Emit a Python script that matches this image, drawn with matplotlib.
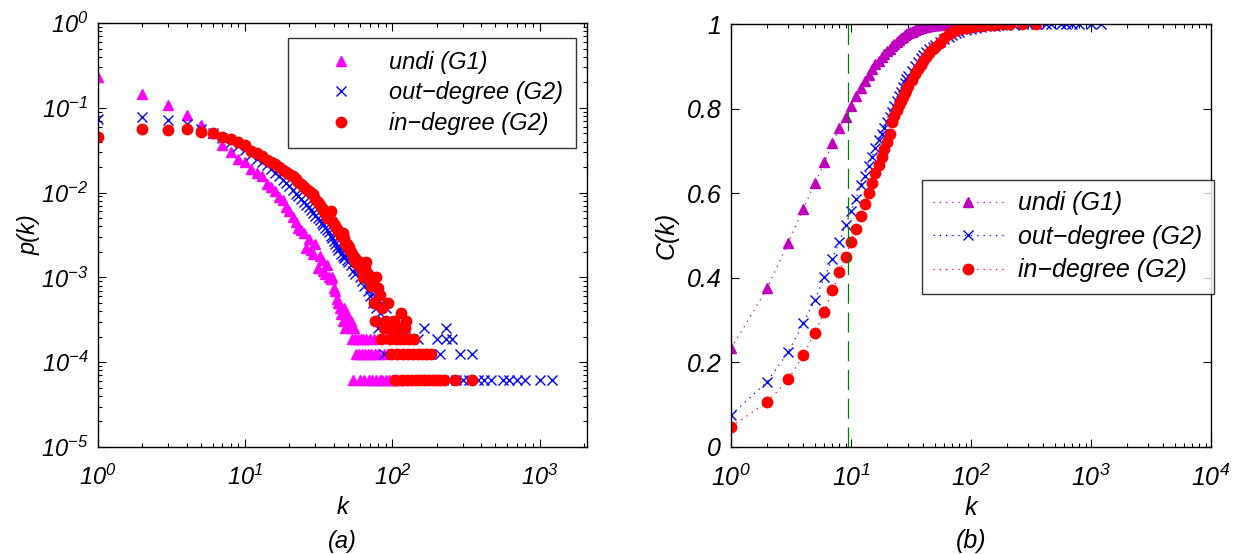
import numpy as np
import matplotlib.pyplot as plt
from matplotlib.ticker import LogLocator, NullFormatter, FuncFormatter, FixedLocator

plt.rcParams['font.family'] = ['Liberation Sans', 'DejaVu Sans']
plt.rcParams['font.style'] = 'italic'
plt.rcParams['mathtext.fontset'] = 'custom'
plt.rcParams['mathtext.rm'] = 'Liberation Sans:italic'
plt.rcParams['mathtext.it'] = 'Liberation Sans:italic'
plt.rcParams['mathtext.default'] = 'it'

# ---- (a) degree distribution p(k) ----
k_undi = [1, 2, 3, 4, 5, 6, 7, 8, 9, 10, 11, 12, 13, 14, 15, 16, 17, 18, 19, 20,
          21, 22, 23, 24, 25, 26, 27, 28, 29, 30, 31, 32, 33, 34, 35, 36, 37, 38, 39, 40,
          41, 42, 43, 44, 45, 46, 47, 48, 49, 50, 51, 52, 53, 54, 55, 56, 57, 58, 59, 60,
          61, 62, 63, 64, 65, 66, 68, 69, 70, 72, 73, 75, 76, 78, 80, 82, 85, 88, 90, 95,
          100, 106, 112]
p_undi = [0.23, 0.145, 0.107, 0.082, 0.062, 0.051, 0.036, 0.030, 0.025, 0.023,
          0.019, 0.017, 0.0155, 0.0126, 0.0118, 0.0105, 0.0088, 0.0082, 0.0068, 0.0060,
          0.0052, 0.0045, 0.0038, 0.0036, 0.0033, 0.0022, 0.0028, 0.0021, 0.0019, 0.0025,
          0.0013, 0.0018, 0.0016, 0.0012, 0.0011, 0.0014, 0.0010, 0.00095, 0.0010, 0.00075,
          0.00069, 0.00056, 0.00050, 0.00044, 0.000375, 0.00031, 0.00044, 0.00025, 0.000375, 0.00031,
          0.00025, 0.00031, 0.0001875, 6.25e-5, 0.00025, 0.0001875, 0.000125, 0.0001875, 0.000125, 6.25e-5,
          0.0001875, 0.000125, 0.0001875, 6.25e-5, 0.000125, 0.0001875, 0.000125, 6.25e-5, 0.0001875, 0.000125,
          6.25e-5, 0.0001875, 0.000125, 6.25e-5, 0.000125, 6.25e-5, 6.25e-5, 0.000125, 6.25e-5, 6.25e-5,
          6.25e-5, 6.25e-5, 6.25e-5]

k_out = [1, 2, 3, 4, 5, 6, 7, 8, 9, 10, 11, 12, 13, 14, 15, 16, 17, 18, 19, 20,
         21, 22, 23, 24, 25, 26, 27, 28, 29, 30, 31, 32, 33, 34, 35, 36, 37, 38, 39, 40,
         41, 42, 43, 44, 45, 46, 47, 48, 49, 50, 52, 54, 56, 58, 60, 62, 64, 66, 68, 70,
         72, 74, 76, 78, 80, 82, 84, 86, 88, 90, 92, 94, 96, 98, 100, 104, 108, 112, 115, 118,
         122, 126, 130, 135, 140, 145, 150, 155, 160, 165, 170, 180, 190, 200, 210, 220, 230, 233, 240, 255,
         270, 290, 300, 330, 350, 380, 420, 465, 560, 620, 700, 790, 1000, 1220]
p_out = [0.074, 0.077, 0.071, 0.064, 0.057, 0.050, 0.044, 0.040, 0.035, 0.032,
         0.028, 0.025, 0.023, 0.021, 0.019, 0.017, 0.0155, 0.014, 0.013, 0.012,
         0.0108, 0.0097, 0.0090, 0.0083, 0.0078, 0.0072, 0.0068, 0.0062, 0.0058, 0.0053,
         0.0050, 0.0047, 0.0044, 0.0041, 0.0038, 0.0036, 0.0034, 0.0031, 0.0029, 0.0027,
         0.0025, 0.0023, 0.0021, 0.0022, 0.0019, 0.0018, 0.0017, 0.0018, 0.0016, 0.0015,
         0.0014, 0.0012, 0.0011, 0.0013, 0.0010, 0.0009, 0.0008, 0.0010, 0.0007, 0.0006,
         0.0008, 0.0005, 0.0006, 0.00044, 0.00025, 0.00038, 0.0005, 0.00031, 0.000125, 0.00044,
         0.00025, 0.00031, 0.0001875, 0.00025, 0.000125, 0.00031, 0.00025, 0.0001875, 6.25e-5, 0.000125,
         0.00025, 6.25e-5, 0.000125, 0.0001875, 6.25e-5, 0.000125, 0.0001875, 6.25e-5, 0.000125, 0.00025,
         6.25e-5, 0.000125, 6.25e-5, 0.0001875, 0.000125, 6.25e-5, 0.0001875, 0.00025, 6.25e-5, 0.0001875,
         6.25e-5, 0.000125, 6.25e-5, 6.25e-5, 0.000125, 6.25e-5, 6.25e-5, 6.25e-5, 6.25e-5, 6.25e-5,
         6.25e-5, 6.25e-5, 6.25e-5, 6.25e-5]

k_in = [1, 2, 3, 4, 5, 6, 7, 8, 9, 10, 11, 12, 13, 14, 15, 16, 17, 18, 19, 20,
        21, 22, 23, 24, 25, 26, 27, 28, 29, 30, 31, 32, 33, 34, 35, 36, 37, 38, 39, 40,
        41, 42, 43, 44, 45, 46, 47, 48, 49, 50, 51, 52, 53, 54, 55, 56, 57, 58, 60, 62,
        63, 65, 66, 68, 70, 72, 75, 76, 78, 80, 82, 84, 85, 88, 90, 92, 94, 96, 98, 100,
        102, 104, 106, 108, 110, 112, 115, 116, 118, 120, 122, 124, 126, 128, 130, 134, 138, 140, 145, 150,
        155, 160, 165, 170, 175, 184, 190, 200, 210, 225, 267, 350]
p_in = [0.045, 0.057, 0.054, 0.057, 0.052, 0.051, 0.045, 0.043, 0.039, 0.036,
        0.031, 0.029, 0.027, 0.024, 0.023, 0.0217, 0.020, 0.0185, 0.0177, 0.0166,
        0.0155, 0.0144, 0.0134, 0.0125, 0.0118, 0.011, 0.0105, 0.0098, 0.0095, 0.0085,
        0.0078, 0.0072, 0.0066, 0.0062, 0.0058, 0.0050, 0.0055, 0.0060, 0.0046, 0.0043,
        0.0040, 0.0037, 0.0035, 0.0033, 0.0031, 0.0033, 0.0029, 0.0025, 0.0025, 0.0022,
        0.0023, 0.0020, 0.0019, 0.0018, 0.0016, 0.0017, 0.0015, 0.0014, 0.0015, 0.0012,
        0.0010, 0.0013, 0.0015, 0.0011, 0.0009, 0.0008, 0.0005, 0.00031, 0.0010, 0.00074,
        0.00062, 0.0001875, 0.00044, 0.00025, 0.00031, 0.00025, 0.0005, 0.0001875, 0.000125, 0.00025,
        0.00031, 6.25e-5, 0.0001875, 0.000125, 0.00025, 0.0001875, 0.00038, 6.25e-5, 0.000125, 0.0001875,
        0.00025, 0.00031, 6.25e-5, 0.000125, 0.0001875, 6.25e-5, 0.000125, 0.0001875, 6.25e-5, 0.000125,
        6.25e-5, 0.000125, 6.25e-5, 0.000125, 6.25e-5, 0.000125, 6.25e-5, 6.25e-5, 6.25e-5, 6.25e-5,
        6.25e-5, 6.25e-5]

# ---- (b) cumulative C(k) ----
kc_undi = [1, 2, 3, 4, 5, 6, 7, 8, 9, 10, 11, 12, 13, 14, 15, 16, 17, 18, 19, 20,
           21, 22, 23, 24, 25, 26, 27, 28, 29, 30, 31, 32, 33, 34, 35, 36, 37, 38, 39, 40,
           41, 42, 43, 44, 45, 46, 47, 48, 49, 50, 52, 54, 56, 58, 60, 62, 64, 66, 68, 70,
           75, 80, 85, 90, 95, 100, 110]
c_undi = [0.233, 0.375, 0.483, 0.563, 0.624, 0.673, 0.718, 0.754, 0.780, 0.807,
          0.830, 0.848, 0.865, 0.879, 0.893, 0.905, 0.913, 0.921, 0.929, 0.936,
          0.942, 0.948, 0.953, 0.958, 0.962, 0.966, 0.970, 0.973, 0.976, 0.978,
          0.980, 0.982, 0.984, 0.986, 0.987, 0.989, 0.990, 0.991, 0.992, 0.993,
          0.994, 0.9945, 0.995, 0.9955, 0.996, 0.9965, 0.997, 0.9975, 0.998, 0.9982,
          0.9985, 0.9987, 0.9989, 0.9991, 0.9992, 0.9993, 0.9994, 0.9995, 0.9996, 0.9997,
          0.9998, 0.99985, 0.9999, 0.99993, 0.99996, 0.99998, 1.0]

kc_out = [1, 2, 3, 4, 5, 6, 7, 8, 9, 10, 11, 12, 13, 14, 15, 16, 17, 18, 19, 20,
          21, 22, 23, 24, 25, 26, 27, 28, 29, 30, 32, 34, 36, 38, 40, 42, 45, 48, 50, 55,
          60, 65, 70, 75, 80, 90, 100, 110, 120, 140, 160, 180, 200, 230, 270, 300, 350, 420, 465, 560,
          620, 700, 790, 1000, 1220]
c_out = [0.076, 0.154, 0.225, 0.292, 0.348, 0.401, 0.445, 0.485, 0.525, 0.557,
         0.586, 0.619, 0.641, 0.665, 0.686, 0.708, 0.725, 0.740, 0.754, 0.768,
         0.780, 0.792, 0.806, 0.818, 0.829, 0.840, 0.850, 0.860, 0.869, 0.877,
         0.890, 0.901, 0.911, 0.920, 0.927, 0.933, 0.940, 0.946, 0.950, 0.958,
         0.964, 0.970, 0.975, 0.979, 0.982, 0.986, 0.989, 0.991, 0.993, 0.995,
         0.996, 0.997, 0.998, 0.9985, 0.999, 0.9993, 0.9995, 0.9996, 0.9997, 0.9998,
         0.99985, 0.9999, 0.99995, 0.99997, 1.0]

kc_in = [1, 2, 3, 4, 5, 6, 7, 8, 9, 10, 11, 12, 13, 14, 15, 16, 17, 18, 19, 20,
         21, 22, 23, 24, 25, 26, 27, 28, 29, 30, 32, 34, 36, 38, 40, 42, 45, 48, 50, 55,
         60, 65, 70, 75, 80, 85, 90, 100, 110, 120, 130, 145, 160, 185, 210, 267, 350]
c_in = [0.048, 0.106, 0.160, 0.217, 0.270, 0.320, 0.370, 0.414, 0.450, 0.485,
        0.516, 0.546, 0.575, 0.601, 0.624, 0.647, 0.667, 0.686, 0.704, 0.722,
        0.740, 0.768, 0.782, 0.797, 0.808, 0.818, 0.828, 0.837, 0.845, 0.853,
        0.867, 0.881, 0.893, 0.904, 0.913, 0.921, 0.931, 0.940, 0.945, 0.956,
        0.968, 0.976, 0.981, 0.985, 0.988, 0.990, 0.991, 0.993, 0.995, 0.996,
        0.997, 0.998, 0.9985, 0.999, 0.9995, 0.9998, 1.0]

k_mean = 9.5

labels = ['undi (G1)', 'out\u2212degree (G2)', 'in\u2212degree (G2)']

fig = plt.figure(figsize=(12.44, 5.54), dpi=100)
ax1 = fig.add_axes([98/1244, 107/554, 489/1244, 424/554])
ax2 = fig.add_axes([731/1244, 107/554, 480/1244, 423/554])

fs1 = 17
fs2 = 18

# (a)
ax1.plot(k_undi, p_undi, '^', color='#ff00ff', ms=7.5, mec='#ff00ff', ls='none', label=labels[0])
ax1.plot(k_out, p_out, 'x', color='#0000ff', ms=7.5, mew=1.0, ls='none', label=labels[1])
ax1.plot(k_in, p_in, 'o', color='#ff0000', ms=7.5, ls='none', label=labels[2])
ax1.set_xscale('log')
ax1.set_yscale('log')
ax1.set_xlim(1, 2100)
ax1.set_ylim(1e-5, 1)
ax1.set_xlabel('k', fontsize=fs1)
ax1.xaxis.set_label_coords(0.5, -0.115)
ax1.set_ylabel('p(k)', fontsize=fs1, labelpad=0)
ax1.text(0.5, -0.222, '(a)', transform=ax1.transAxes, ha='center', va='center', fontsize=fs1)
ax1.legend(loc='upper left', bbox_to_anchor=(0.389, 0.965), fontsize=fs1, frameon=True,
           fancybox=False, edgecolor='black', numpoints=1, handlelength=3.4,
           labelspacing=0.32, borderpad=0.55, handletextpad=0.3, borderaxespad=0)

# (b)
ax2.plot(kc_undi, c_undi, color='#bf00bf', marker='^', ms=7.5, ls=(0, (1, 4)), lw=0.9, label=labels[0])
ax2.plot(kc_out, c_out, color='#0000ff', marker='x', ms=7.5, mew=1.0, ls=(0, (1, 4)), lw=0.9, label=labels[1])
ax2.plot(kc_in, c_in, color='#ff0000', marker='o', ms=7.5, ls=(0, (1, 4)), lw=0.9, label=labels[2])
ax2.axvline(k_mean, color='#008000', lw=0.9, ls=(0, (16, 7)))
ax2.set_xscale('log')
ax2.set_xlim(1, 1e4)
ax2.set_ylim(0, 1)
ax2.yaxis.set_major_locator(FixedLocator([0, 0.2, 0.4, 0.6, 0.8, 1.0]))
ax2.yaxis.set_major_formatter(FuncFormatter(lambda v, _: '%g' % v))
ax2.set_xlabel('k', fontsize=fs2)
ax2.xaxis.set_label_coords(0.5, -0.115)
ax2.set_ylabel('C(k)', fontsize=fs2, labelpad=6)
ax2.text(0.5, -0.222, '(b)', transform=ax2.transAxes, ha='center', va='center', fontsize=fs2)
ax2.legend(loc='upper left', bbox_to_anchor=(0.398, 0.631), fontsize=fs2, frameon=True,
           fancybox=False, edgecolor='black', numpoints=1, handlelength=2.8,
           labelspacing=0.38, borderpad=0.45, handletextpad=0.6, borderaxespad=0)

logfmt = FuncFormatter(lambda v, _: '$10^{%d}$' % int(round(np.log10(v))))
for ax, fs in ((ax1, fs1), (ax2, fs2)):
    ax.xaxis.set_major_locator(LogLocator(base=10, numticks=10))
    ax.xaxis.set_minor_locator(LogLocator(base=10, subs=np.arange(2, 10), numticks=20))
    ax.xaxis.set_major_formatter(logfmt)
    ax.xaxis.set_minor_formatter(NullFormatter())
    ax.tick_params(which='both', direction='in', top=True, right=True, labelsize=fs, width=0.8)
    ax.tick_params(which='major', length=6)
    ax.tick_params(which='minor', length=3)
    ax.tick_params(axis='x', which='major', pad=13)
    ax.tick_params(axis='y', which='major', pad=7)
    for s in ax.spines.values():
        s.set_linewidth(1.0)
    for lab in ax.get_xticklabels() + ax.get_yticklabels():
        lab.set_fontstyle('italic')
    ax.get_legend().get_frame().set_linewidth(1.0)

ax1.yaxis.set_major_locator(LogLocator(base=10, numticks=10))
ax1.yaxis.set_minor_locator(LogLocator(base=10, subs=np.arange(2, 10), numticks=20))
ax1.yaxis.set_major_formatter(logfmt)
ax1.yaxis.set_minor_formatter(NullFormatter())

fig.savefig('out.png', dpi=100)
